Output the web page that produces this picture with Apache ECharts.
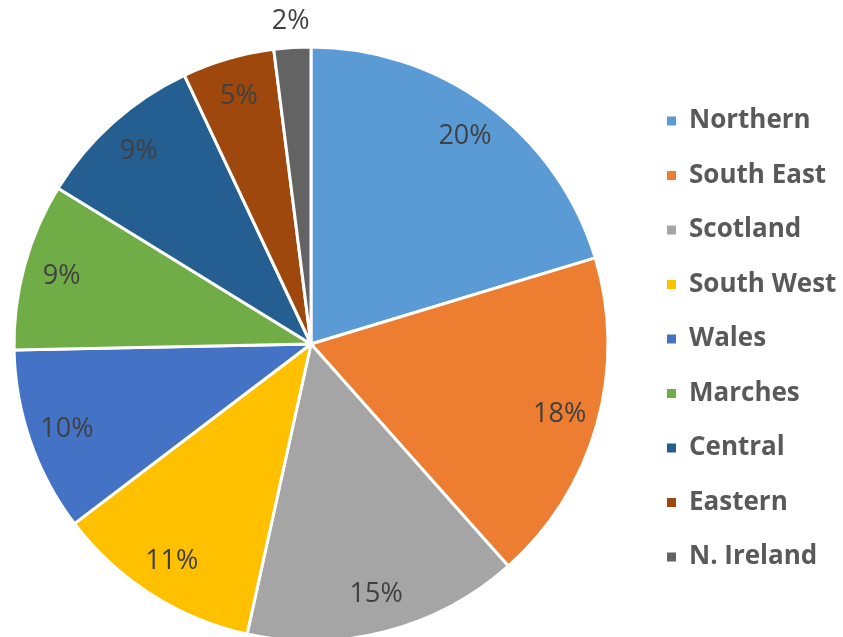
<!DOCTYPE html>
<html>
<head>
<meta charset="utf-8">
<script src="https://cdn.jsdelivr.net/npm/echarts@6/dist/echarts.min.js"></script>
<style>
  html, body { margin: 0; padding: 0; background: #fff; }
  #chart { width: 843px; height: 637px; }
</style>
</head>
<body>
<div id="chart"></div>
<script>
// regions and their share
const regions = ["Northern", "South East", "Scotland", "South West", "Wales", "Marches", "Central", "Eastern", "N. Ireland"];
const shares = [20.3, 18.1, 15.0, 11.2, 10.0, 9.1, 9.2, 5.0, 2.0];
const colors = ["#5B9BD5", "#ED7D31", "#A5A5A5", "#FFC000", "#4472C4", "#70AD47", "#255E91", "#9E480E", "#636363"];

const center = [311, 344];
const R = 297;

const pieData = regions.map((n, i) => ({ name: n, value: shares[i] }));
const pctLabel = p => Math.round(p.percent) + "%";
const labelFont = { fontFamily: "Open Sans", fontSize: 27, color: "#404040" };

const chart = echarts.init(document.getElementById("chart"));
chart.setOption({
  animation: false,
  color: colors,
  legend: {
    orient: "vertical",
    left: 665,
    top: 106,
    padding: 0,
    itemWidth: 11,
    itemHeight: 11,
    itemGap: 24.5,
    icon: "rect",
    data: regions,
    selectedMode: false,
    textStyle: {
      fontFamily: "Open Sans",
      fontWeight: "bold",
      fontSize: 26,
      lineHeight: 30,
      color: "#595959",
      padding: [0, 0, 0, 7]
    }
  },
  series: [
    {
      // the pie itself
      type: "pie",
      center: center,
      radius: [0, R],
      startAngle: 90,
      clockwise: true,
      silent: true,
      label: { show: false },
      labelLine: { show: false },
      itemStyle: { borderColor: "#fff", borderWidth: 3 },
      data: pieData
    },
    {
      // transparent copy, only to place the inner labels further out
      type: "pie",
      center: center,
      radius: [0, R * 1.72],
      startAngle: 90,
      silent: true,
      itemStyle: { color: "transparent", borderWidth: 0 },
      label: Object.assign({ show: true, position: "inside", formatter: pctLabel }, labelFont),
      labelLine: { show: false },
      data: pieData.map((d, i) => i === regions.length - 1 ? Object.assign({}, d, { label: { show: false } }) : d)
    },
    {
      // transparent copy for the small slice label outside the pie
      type: "pie",
      center: center,
      radius: [0, R * 2.16],
      startAngle: 90,
      silent: true,
      itemStyle: { color: "transparent", borderWidth: 0 },
      label: Object.assign({ show: false, position: "inside", formatter: pctLabel }, labelFont),
      labelLine: { show: false },
      data: pieData.map((d, i) => i === regions.length - 1 ? Object.assign({}, d, { label: { show: true } }) : d)
    }
  ]
});
</script>
</body>
</html>
